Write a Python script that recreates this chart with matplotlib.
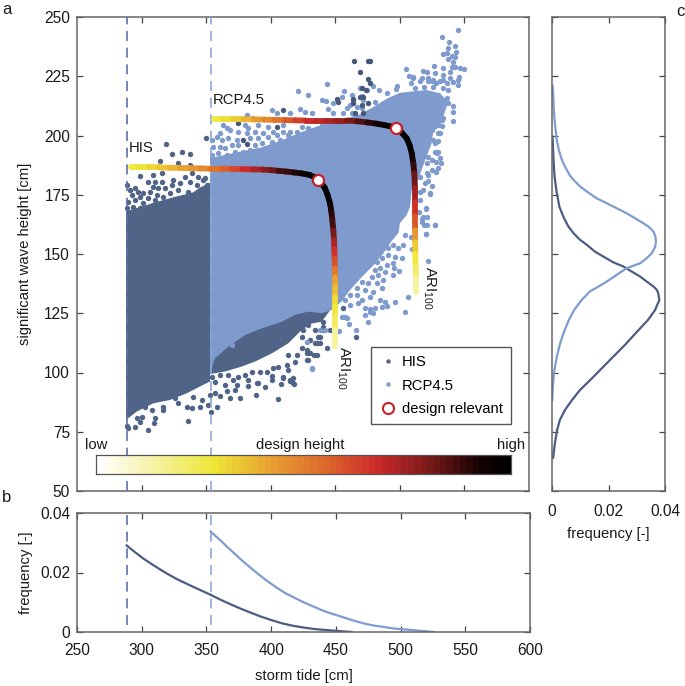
import numpy as np
import matplotlib
matplotlib.use('Agg')
import matplotlib.pyplot as plt
from matplotlib.collections import LineCollection
from matplotlib.colors import LinearSegmentedColormap
from matplotlib.lines import Line2D

plt.rcParams['font.family'] = ['Liberation Sans', 'DejaVu Sans']
plt.rcParams['mathtext.default'] = 'regular'

# dense parts of the clouds, outline
his_cloud = [(288, 168), (300, 170), (312, 172), (325, 174), (340, 176), (345, 178), (353, 180), (353, 96.2),
             (347.8, 94.8), (334.9, 91.2), (322, 88.4), (309.1, 87), (296.2, 83.5), (288, 80)]
his_band = [(349, 99), (364.6, 100.4), (377.5, 102.5), (387.8, 104.6), (400.7, 108), (413.6, 112.3), (424, 118),
            (431.7, 120.7), (439.4, 121.4), (447, 127), (430, 135), (360, 118)]
rcp_cloud = [(353, 99.7), (353, 190.5), (374.9, 193), (393, 195), (408.5, 198), (424, 201.5), (436.9, 204),
             (452.3, 206), (469.1, 209), (479.4, 212), (489.7, 215.5), (500, 218), (507.8, 218.5), (520.7, 219.2),
             (531, 217.8), (537.5, 214.3), (533.6, 208), (531, 203.8), (525.9, 201.7), (524.6, 196.7), (520.7, 191.1),
             (516.8, 185.5), (514.3, 181.3), (509.2, 177), (507.9, 170), (505.3, 166.4), (500, 163), (499, 159),
             (493, 155), (487, 150), (480, 145.5), (470, 140), (461, 134.5), (455, 130),
             (447.2, 126.4), (439.5, 125), (429.1, 125.7), (418.8, 124.3), (408.5, 121.4), (393, 118.6), (380, 115.8),
             (367.2, 110.9), (356.8, 106)]

# single HIS points, upper edge
his_upper = [(349.6, 199.1), (318.7, 196.5), (331.1, 193.1), (337.5, 192), (323.6, 192), (314.5, 189.3), (328, 188.2),
             (337.5, 187.6), (298.8, 182.9), (309.1, 183.3), (315.6, 184), (305.2, 180.5), (310.4, 180.5), (315.6, 180.5),
             (324.6, 181.2), (333.6, 182.6), (338.8, 184), (344, 182.6), (347.8, 181.2), (309.1, 178.4), (313, 177.7),
             (318.1, 177.7), (323.3, 179.1), (329.8, 179.8), (337.5, 180.5), (342.7, 179.1), (349.1, 181.9), (350.9, 179.1),
             (294.9, 177.7), (291, 177), (289, 179.1), (301.4, 175.6), (297.5, 176.3), (292.3, 174.9), (306.5, 176.3),
             (311.7, 174.9), (316.9, 174.2), (322, 175.6), (328.5, 177), (336.2, 176.3), (344, 175.6), (289.8, 172.1),
             (294.9, 172.8), (298.8, 174.2), (305.2, 173.5), (310.4, 172.8), (319.4, 172.1), (333.6, 173.5), (341.4, 173.5),
             (288.5, 169.3), (293.6, 170), (301.4, 171.4), (309.1, 170.7), (315.6, 171.4), (329.8, 171.4), (337.5, 171.4),
             (290.5, 167.2), (298.8, 169.3)]

# single HIS points, lower edge
his_lower = [(288.5, 77.6), (294.9, 77.2), (289.8, 76.5), (305, 75.8), (298.8, 79), (310.4, 81), (309.6, 78.6),
             (335.7, 79.7), (353.5, 83.5), (334.9, 85.6), (338.8, 84.9), (316.9, 84.2), (307.8, 84.2), (300.1, 81.4),
             (296.2, 80.7), (345.2, 85.6), (351.7, 86.3), (358.1, 85.6), (346.5, 88.4), (328.5, 87), (353, 90.5),
             (356.9, 91.2), (340, 89.8), (325.9, 89.1), (316.9, 85.6), (302.7, 85.6),
             (360.7, 90.1), (368.5, 89.1), (376.2, 89.1), (388.4, 90.5), (405.9, 88.7), (365.9, 92), (372.4, 92.6),
             (382.7, 94.3), (389.1, 95.4), (395.6, 93.8), (407.7, 95), (418, 95.2), (415, 96.6), (417.5, 97.6),
             (409.8, 98), (400.7, 98.6), (354.3, 98.2), (360.7, 98.9), (367.2, 98.9), (374.9, 98.2), (371, 96.8),
             (380.1, 98.9), (385.2, 100.4), (391.7, 100.4), (396.8, 100.4), (402, 101.8), (405.9, 102.5), (413.6, 101),
             (418.8, 104.6), (412.3, 103.2), (409.8, 97.5), (414.9, 96.8), (417.5, 95.4), (400.7, 96.8), (390.4, 95.4),
             (382.7, 96.8), (373.6, 94.7), (364.6, 94.7), (356.8, 96.1), (423.9, 110.2), (427.8, 109.5), (430.4, 108.1),
             (435.6, 107.4), (427.8, 105.3), (420.1, 107.4), (413.6, 107.4), (438.1, 112.3), (436.9, 115.1), (440.7, 117.9),
             (434.3, 112.3), (466, 114.9), (456.2, 127.1), (443.4, 110.2), (427.9, 108.1), (433.5, 107.4), (429.2, 105.3),
             (430.4, 113.7), (438.2, 115.1), (434.3, 118), (440.8, 119.4), (445.9, 118), (429.2, 120), (424, 115.1),
             (435.6, 112.3), (440.8, 121.5), (425.3, 118)]

# HIS points that lie on top of the RCP4.5 cloud
his_top = [(464.5, 231.6), (475.6, 231.6), (477, 231.6), (469.2, 226.7), (475.6, 223.7), (476.9, 222), (470.5, 219.9),
           (473.5, 219), (469.2, 216.4), (471.7, 216.1), (464, 215.3), (452.4, 214), (464, 213.6), (470.5, 212.9),
           (475.6, 213.6), (465.3, 209.4), (471.7, 209.4), (409.8, 210.8), (374.9, 205.1), (404.6, 203.7), (378.8, 198.1),
           (381.4, 196.3), (451, 215.4)]

# single RCP4.5 points, upper left band
rcp_upper = [(421.4, 218.8), (429.1, 217.1), (439.4, 215), (442.5, 214.6), (448.5, 213.6), (454.9, 216.4), (462.7, 217.1),
             (469.1, 219.9), (464, 215), (470.4, 216.8), (461.4, 212.9), (458.8, 211.5), (466.5, 212.2), (400.7, 210.8),
             (404.6, 209.3), (414.9, 209.3), (422.7, 211.2), (426.5, 210.1), (431.7, 209.3), (444.6, 211.2), (448.5, 209.3),
             (456.2, 209.3), (462.7, 209.3), (470.4, 211.5), (381.4, 208.6), (385.2, 207.2), (363.3, 204.4), (365.9, 203),
             (380.1, 204.4), (382.7, 203), (390.4, 204.4), (398.1, 203.7), (409.8, 204.4), (414.9, 201.6), (360.7, 200.9),
             (368.5, 202.3), (374.9, 201.6), (381.4, 200.9), (387.8, 201.6), (394.3, 200.9), (402, 201.6), (409.8, 201.6),
             (420.1, 201.6), (423.9, 203.7), (429.1, 203), (439.4, 204.4), (452.3, 205.1), (354.3, 198.1), (358.1, 199.5),
             (362, 198.1), (367.2, 198.8), (373.6, 198.1), (383.9, 198.8), (390.4, 198.8), (398.1, 199.5), (404.6, 200.2),
             (413.6, 200.2), (420.1, 199.5), (355.6, 195.3), (360.7, 195.3), (364.6, 194.6), (369.7, 196), (374.9, 196),
             (387.8, 196), (393, 196.7), (400.7, 197.4), (407.2, 198.1), (354.3, 191.8), (359.4, 192.5), (365.9, 191.8),
             (372.3, 193.2), (378.8, 193.2), (383.9, 193.9), (390.4, 193.9), (395.6, 194.6)]

# single RCP4.5 points, top right plume
rcp_plume = [(545.3, 244.5), (532.9, 241.7), (538.3, 239.6), (542.7, 237.9), (537.6, 237.1), (543.2, 235.4), (533.7, 234.3),
             (536.3, 234.7), (540.1, 233.7), (542.7, 233), (537, 232.2), (541.4, 231.2), (526.5, 229.5), (533.2, 228.4),
             (540.1, 229.1), (542.7, 228.7), (546.6, 228.4), (549.7, 228.2), (504.5, 227.9), (517.7, 227.2), (520.8, 226.7),
             (527.2, 226.3), (533.7, 225.6), (538.8, 227), (546.1, 224.6), (545.3, 223.4), (541.4, 222.5), (545.3, 221.3),
             (507.4, 224.9), (510.5, 224.6), (516.9, 224.2), (522.1, 222.8), (525.9, 223.5), (531.1, 222.8), (536.3, 222),
             (508.4, 222), (511.7, 219.9), (518.7, 220.4), (525.9, 220.4), (533.7, 219.9), (537.6, 219.2), (497.6, 220.9),
             (497, 219.5), (484.1, 219.2), (489.8, 218.1), (443.4, 221.6), (457, 218.8), (479.5, 220.9), (474.3, 219),
             (506.6, 217.1), (514.3, 216.4), (522.1, 216.4), (529.8, 217.1), (536.3, 215.7), (480.8, 214.3), (471.7, 215),
             (510.4, 224.2), (515.6, 222.8), (522, 224.2), (524.6, 222.8), (527.9, 222), (533.6, 223.5), (538.8, 224.2)]

# single RCP4.5 points, right edge
rcp_right = [(541.4, 212.6), (541.4, 210.1), (537.6, 213.6), (541.4, 206.3), (533.7, 207.3), (532.4, 203.8), (528.5, 204.5),
             (529.8, 201), (522.1, 197.4), (525.9, 198.1), (527.2, 193.2), (531.1, 190.4), (531.6, 188.3), (529.8, 186.2),
             (527.7, 184.8), (524.7, 185.5), (520.8, 184.1), (522.1, 180.6), (525.2, 178.5), (523.4, 175.4), (520.3, 168.9),
             (520.8, 165.8), (516.9, 164.7), (519, 162.3), (527.2, 162.3), (520.3, 158.4), (515.6, 172.8), (518.2, 177.1),
             (515.6, 182.7), (513, 186.9), (518.2, 192.5), (522.1, 191.1), (516.9, 195.3), (520.8, 188.3), (532.3, 206.6),
             (529.8, 204.5), (531, 201), (524.6, 202.4), (522, 197.5), (529.8, 197.5), (527.2, 196.8), (527.9, 189),
             (524.6, 189.7), (522, 183.4), (529.8, 193.2), (528.5, 192.5), (515.6, 176.3), (523.4, 175.6), (519.5, 179.8)]

# single RCP4.5 points, lower right edge
rcp_lower = [(520.3, 169.2), (515.1, 167.8), (518.2, 165.7), (527.3, 162.2), (521.3, 162.2), (516.9, 163.6), (520, 158.4),
             (508.4, 157.3), (504, 158), (502.7, 153.8), (498.9, 152.4), (495, 153.8), (491.1, 152.4), (486, 153),
             (509.2, 152), (501.5, 148.2), (496.3, 148.9), (491.1, 149.6), (486, 148.2), (482.1, 146.8), (495, 146),
             (489.8, 145.3), (484.7, 143.9), (480.8, 143.2), (499.6, 143), (495.8, 143.9), (494.5, 141.1), (488.5, 142.5),
             (483.4, 141.1), (478.2, 140.4), (487.3, 139), (482.1, 137.6), (475.6, 137.6), (470.5, 138.3), (486, 135.5),
             (479.5, 134.1), (473, 134.8), (466.6, 135.5), (476.9, 132), (470.5, 130.6), (466.6, 132.7), (461.4, 132.7),
             (457.6, 130.6), (467.9, 129.2), (461.4, 128.5), (484.7, 130.6), (488.5, 129.9), (496.3, 129.9), (506.6, 132),
             (486, 127.8), (480.8, 127.1), (476.9, 126.7), (473, 127.1), (489.8, 128), (504, 125.7), (473, 124.3),
             (476.9, 125.7), (479.5, 125.2), (522.1, 147), (457.6, 123.5), (432, 101.8), (466, 118), (460.6, 120.5),
             (453.2, 117.3), (475.6, 121.5), (458.8, 122.9), (455, 123.6), (431.7, 101.5), (427.8, 113), (438.1, 117.9),
             (442, 118), (369.7, 111.6)]

# ARI100 isolines with design height level (0 low, 1 high) along them
his_line_x = [292, 298, 306, 314, 322, 330, 338, 346, 354, 362, 370, 378, 386, 394, 400, 406, 412, 418, 424, 430,
              434, 436.4, 439, 442, 444, 445.9, 446.9, 447.7, 448.5, 449, 449.3, 449.5, 449.7, 449.8, 450, 450, 450, 450, 450, 450]
his_line_y = [186.5, 186.5, 186.5, 186.5, 186.4, 186.3, 186.2, 186.1, 186, 186, 185.9, 185.8, 185.7, 185.6, 185.4, 185.1, 184.8, 184.4, 184, 183.4,
              182.4, 181.3, 180, 177.8, 175, 171.4, 168, 164.4, 160, 156, 152, 148, 144, 140, 136, 132, 128, 124, 118, 111]
his_line_c = [0.27, 0.29, 0.32, 0.35, 0.38, 0.41, 0.44, 0.47, 0.52, 0.57, 0.62, 0.68, 0.72, 0.78, 0.82, 0.86, 0.89, 0.92, 0.95, 0.98,
              1, 1, 1, 1, 0.98, 0.94, 0.9, 0.86, 0.8, 0.72, 0.67, 0.6, 0.5, 0.42, 0.36, 0.3, 0.27, 0.22, 0.15, 0.05]
rcp_line_x = [356, 363, 371, 379, 387, 395, 403, 411, 419, 427, 435, 443, 451, 459, 467, 475, 482, 488, 493, 497.3,
              501, 505.3, 507.5, 509.2, 510.5, 511.2, 511.7, 511.7, 511.7, 511.8, 511.9, 512, 512.2, 512.4, 512.5]
rcp_line_y = [207, 207, 207, 206.9, 206.8, 206.7, 206.6, 206.5, 206.4, 206.3, 206.3, 206.3, 206.3, 206.3, 206, 205.5, 205, 204.4, 203.8, 203.1,
              201.5, 198.8, 196, 192.5, 188, 184, 178, 172, 166, 160, 155, 150, 145, 140, 134]
rcp_line_c = [0.27, 0.3, 0.34, 0.38, 0.43, 0.47, 0.52, 0.58, 0.64, 0.68, 0.7, 0.72, 0.75, 0.8, 0.85, 0.9, 0.94, 0.97, 1, 1,
              1, 1, 0.98, 0.94, 0.88, 0.82, 0.74, 0.67, 0.58, 0.45, 0.34, 0.28, 0.22, 0.15, 0.06]
design_x = [436.4, 497.3]
design_y = [181.3, 203.1]

# panel b, storm tide frequency
tide_his_x = [288.4, 294, 300.9, 307.8, 314.7, 321.6, 328.5, 335.3, 342.2, 353.3, 361.6, 369.8, 376.7, 383.6, 391.9, 400.2,
              408.5, 416.7, 425, 433.3, 441.6, 449.8, 462.3]
tide_his_f = [0.0291, 0.0271, 0.0248, 0.0228, 0.0209, 0.0191, 0.0175, 0.0161, 0.0147, 0.0125, 0.0107, 0.0091, 0.0078, 0.0066,
              0.0052, 0.004, 0.0029, 0.0021, 0.0015, 0.001, 0.0007, 0.0004, 0]
tide_rcp_x = [353.3, 357.4, 361.6, 367.1, 372.6, 378.1, 383.6, 390.5, 397.4, 404.3, 411.2, 418.1, 425, 431.9, 438.8, 445.7,
              452.6, 459.5, 466.4, 473.3, 480.2, 487.1, 494, 507.8, 525.7]
tide_rcp_f = [0.0338, 0.0321, 0.0305, 0.0282, 0.026, 0.0238, 0.0218, 0.0193, 0.017, 0.0149, 0.013, 0.0115, 0.01, 0.0087,
              0.0074, 0.0063, 0.0054, 0.0044, 0.0035, 0.0027, 0.0021, 0.0017, 0.0012, 0.0007, 0]

# panel c, wave height frequency
wave_his_y = [199.5, 193.9, 188.3, 182.7, 175.7, 170, 165.8, 161.6, 158.8, 156, 153.9, 151, 148.9, 146.5, 144.7, 142.6, 140.5,
              138.4, 136.3, 134.9, 133.5, 130.6, 126.4, 122.2, 116.7, 111.6, 106.1, 101, 96.8, 92.6, 88.4, 84.2, 80, 75.7, 70.7, 64]
wave_his_f = [0.0002, 0.0004, 0.0006, 0.0009, 0.0017, 0.0026, 0.004, 0.0058, 0.0076, 0.0099, 0.0123, 0.0152, 0.0182, 0.0217,
              0.0253, 0.0282, 0.0312, 0.0335, 0.0359, 0.0371, 0.0376, 0.038, 0.0365, 0.034, 0.0297, 0.0258, 0.0212, 0.017,
              0.0135, 0.0099, 0.0071, 0.0046, 0.0028, 0.0018, 0.0011, 0.0004]
wave_rcp_y = [221, 217.8, 215, 211.5, 208, 203.1, 198.1, 193.9, 190.8, 188.3, 185.5, 183.1, 181.3, 178.5, 176.4, 173.5, 171.4,
              169.3, 167.2, 165.1, 163, 161.6, 159.5, 157.4, 155.3, 152.9, 150.3, 148.2, 146.1, 144, 141.2, 138.4, 136.3,
              134.2, 130.6, 126.5, 122, 117, 112, 106, 100, 94, 88.4]
wave_rcp_f = [0.0002, 0.0004, 0.0005, 0.0006, 0.0008, 0.0012, 0.0017, 0.0024, 0.0032, 0.004, 0.0052, 0.0064, 0.0076, 0.0099,
              0.0123, 0.0158, 0.0194, 0.0229, 0.0264, 0.0294, 0.0323, 0.0341, 0.0359, 0.0366, 0.0368, 0.0365, 0.0353, 0.0335,
              0.0312, 0.0264, 0.0229, 0.0194, 0.0165, 0.0134, 0.0105, 0.0079, 0.0059, 0.0042, 0.0028, 0.0016, 0.0007, 0.0003, 0.0001]

threshold_his = 289
threshold_rcp = 353.5

C_HIS = '#506488'
C_RCP = '#7f9bcd'
C_HIS_LINE = '#4c5c84'
C_RCP_LINE = '#7f9bd0'
C_SPINE = '#666666'
C_TEXT = '#1a1a1a'
FS = 11.2

design_cmap = LinearSegmentedColormap.from_list('design', [
    (0.0, '#ffffff'), (0.14, '#f6f2a0'), (0.28, '#efe838'), (0.42, '#e8a032'),
    (0.55, '#dd6a2c'), (0.68, '#cc2a2a'), (0.82, '#701818'), (0.93, '#150303'), (1.0, '#000000')], N=64)

W, H = 685, 686
fig = plt.figure(figsize=(W / 100, H / 100), dpi=100)


def axes_px(left, top, right, bottom):
    return fig.add_axes([left / W, 1 - bottom / H, (right - left) / W, (bottom - top) / H])


def dots(ax, pts, color, zorder):
    xy = np.array(pts)
    ax.scatter(xy[:, 0], xy[:, 1], s=15, color=color, lw=0, zorder=zorder)


def cloud(ax, pts, color, zorder):
    xy = np.array(pts)
    ax.fill(xy[:, 0], xy[:, 1], color=color, lw=0, zorder=zorder)


ax_a = axes_px(77, 17, 529, 491)
ax_b = axes_px(77, 513, 530, 632)
ax_c = axes_px(552, 17, 665, 491)

for ax in (ax_a, ax_b, ax_c):
    for s in ax.spines.values():
        s.set_color(C_SPINE)
        s.set_linewidth(1.1)
    ax.tick_params(direction='in', length=4, width=0.9, color='#444444', labelsize=FS,
                   labelcolor=C_TEXT, top=True, right=True, pad=4)

# panel a
cloud(ax_a, his_cloud, C_HIS, 1)
cloud(ax_a, his_band, C_HIS, 1)
dots(ax_a, his_upper, C_HIS, 1)
dots(ax_a, his_lower, C_HIS, 1)
cloud(ax_a, rcp_cloud, C_RCP, 2)
for group in (rcp_upper, rcp_plume, rcp_right, rcp_lower):
    dots(ax_a, group, C_RCP, 2)
dots(ax_a, his_top, '#46587c', 3)

for xs, ys, cs in ((his_line_x, his_line_y, his_line_c), (rcp_line_x, rcp_line_y, rcp_line_c)):
    pts = np.column_stack([xs, ys])
    segs = np.stack([pts[:-1], pts[1:]], axis=1)
    lc = LineCollection(segs, array=np.array(cs[:-1]), cmap=design_cmap, norm=plt.Normalize(0, 1),
                        linewidths=4.2, capstyle='round', zorder=4)
    ax_a.add_collection(lc)
ax_a.plot(design_x, design_y, 'o', ms=8, mfc='white', mec='#c8202a', mew=1.6, zorder=5, ls='none')

ax_a.axvline(threshold_his, color='#5f6fa8', lw=1.2, dashes=(6, 4), zorder=3)
ax_a.axvline(threshold_rcp, color='#8ba6d8', lw=1.2, dashes=(6, 4), zorder=3)

ax_a.set_xlim(250, 600)
ax_a.set_ylim(50, 250)
ax_a.set_xticks(range(300, 600, 50))
ax_a.set_xticklabels([])
ax_a.set_yticks(range(50, 251, 25))
ax_a.tick_params(axis='y', pad=5)
ax_a.set_ylabel('significant wave height [cm]', fontsize=10.7, color=C_TEXT, labelpad=9)

ax_a.text(355.3, 215, 'RCP4.5', fontsize=10.7, color=C_TEXT, va='center', zorder=6)
ax_a.text(290, 194.7, 'HIS', fontsize=10.7, color=C_TEXT, va='center', zorder=6)
ax_a.text(456, 102, r'ARI$_{100}$', fontsize=10.7, color=C_TEXT, rotation=-90, ha='center', va='center', zorder=6)
ax_a.text(522.6, 135.7, r'ARI$_{100}$', fontsize=10.7, color=C_TEXT, rotation=-90, ha='center', va='center', zorder=6)

handles = [Line2D([], [], ls='none', marker='o', ms=3.2, color=C_HIS, mew=0),
           Line2D([], [], ls='none', marker='o', ms=3.2, color=C_RCP, mew=0),
           Line2D([], [], ls='none', marker='o', ms=8, mfc='none', mec='#c8202a', mew=1.5)]
leg = ax_a.legend(handles, ['HIS', 'RCP4.5', 'design relevant'], fontsize=10.7, loc='lower right',
                  bbox_to_anchor=(511 / W, 1 - 424 / H), bbox_transform=fig.transFigure,
                  fancybox=False, framealpha=1, edgecolor='#555555', borderpad=0.55, labelspacing=0.62,
                  handletextpad=0.25, handlelength=1.3, borderaxespad=0)
leg.set_zorder(7)
leg.get_frame().set_linewidth(1.0)

# colour bar
cax = fig.add_axes([95.5 / W, 1 - 474 / H, (511 - 95.5) / W, 19 / H])
cax.imshow(np.arange(64)[None, :], aspect='auto', cmap=design_cmap, vmin=0, vmax=63)
cax.set_xticks([])
cax.set_yticks([])
for s in cax.spines.values():
    s.set_color('#555555')
    s.set_linewidth(0.9)
fig.text(85 / W, 1 - 445 / H, 'low', fontsize=10.7, color=C_TEXT, va='center')
fig.text(300 / W, 1 - 445 / H, 'design height', fontsize=10.7, color=C_TEXT, va='center', ha='center')
fig.text(525 / W, 1 - 445 / H, 'high', fontsize=10.7, color=C_TEXT, va='center', ha='right')

# panel b
ax_b.plot([threshold_his, threshold_his], [0.0024, 0.04], color='#5f6fa8', lw=1.2, dashes=(6, 4))
ax_b.plot([threshold_rcp, threshold_rcp], [0.0024, 0.04], color='#8ba6d8', lw=1.2, dashes=(6, 4))
ax_b.plot(tide_his_x, tide_his_f, color=C_HIS_LINE, lw=1.6)
ax_b.plot(tide_rcp_x, tide_rcp_f, color=C_RCP_LINE, lw=1.6)
ax_b.set_xlim(250, 600)
ax_b.set_ylim(0, 0.04)
ax_b.set_xticks(range(250, 601, 50))
ax_b.set_yticks([0, 0.02, 0.04])
ax_b.set_yticklabels(['0', '0.02', '0.04'])
ax_b.tick_params(axis='x', pad=8)
ax_b.tick_params(axis='y', pad=5)
ax_b.set_xlabel('storm tide [cm]', fontsize=10.7, color=C_TEXT, labelpad=8)
ax_b.set_ylabel('frequency [-]', fontsize=10.7, color=C_TEXT, labelpad=5)

# panel c
ax_c.plot(wave_his_f, wave_his_y, color=C_HIS_LINE, lw=1.6)
ax_c.plot(wave_rcp_f, wave_rcp_y, color=C_RCP_LINE, lw=1.6)
ax_c.set_xlim(0, 0.04)
ax_c.set_ylim(50, 250)
ax_c.set_xticks([0, 0.02, 0.04])
ax_c.set_xticklabels(['0', '0.02', '0.04'])
ax_c.set_yticks(range(50, 251, 25))
ax_c.set_yticklabels([])
ax_c.tick_params(axis='x', pad=9)
ax_c.set_xlabel('frequency [-]', fontsize=10.7, color=C_TEXT, labelpad=6)

fig.text(2 / W, 1 - 10 / H, 'a', fontsize=12, color=C_TEXT, va='center')
fig.text(2 / W, 1 - 497 / H, 'b', fontsize=12, color=C_TEXT, va='center')
fig.text(676 / W, 1 - 11 / H, 'c', fontsize=12, color=C_TEXT, va='center')

fig.savefig('out.png', dpi=100)
